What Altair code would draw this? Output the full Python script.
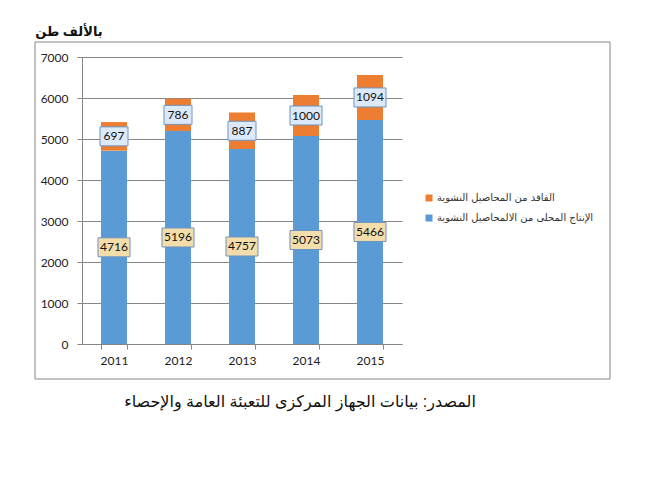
import altair as alt
import pandas as pd

years = ["2011", "2012", "2013", "2014", "2015"]
production = [4716, 5196, 4757, 5073, 5466]
loss = [697, 786, 887, 1000, 1094]

s_loss = "الفاقد من المحاصيل النشوية"
s_prod = "الإنتاج المحلى من الالمحاصيل النشوية"
unit_title = "بالألف طن"
source_text = "المصدر: بيانات الجهاز المركزى للتعبئة العامة والإحصاء"

y_ticks = [0, 1000, 2000, 3000, 4000, 5000, 6000, 7000]

rows = []
for yr, p, l in zip(years, production, loss):
    rows.append({"year": yr, "series": s_prod, "value": p, "ord": 0,
                 "mid": p / 2, "label": str(p)})
    rows.append({"year": yr, "series": s_loss, "value": l, "ord": 1,
                 "mid": p + l / 2, "label": str(l)})
df = pd.DataFrame(rows)

GRAY = "#868686"
W, H = 320, 287

xenc = alt.X("year:N", title=None,
             scale=alt.Scale(paddingInner=0.594, paddingOuter=0.297),
             axis=alt.Axis(labelFont="Lato", labelFontSize=12, labelColor="#222",
                           labelAngle=0, tickBand="extent", tickSize=5,
                           tickColor=GRAY, domainColor=GRAY, labelPadding=6,
                           grid=False))

yscale = alt.Scale(domain=[0, 7000], nice=False)

base = alt.Chart(df)

bars = base.mark_bar().encode(
    x=xenc,
    y=alt.Y("value:Q", stack="zero", scale=yscale, title=None,
            axis=alt.Axis(values=y_ticks, format="d", labelFont="Lato",
                          labelFontSize=12, labelColor="#222", tickSize=5,
                          tickColor=GRAY, domainColor=GRAY, gridColor=GRAY,
                          labelPadding=9)),
    color=alt.Color("series:N",
                    scale=alt.Scale(domain=[s_loss, s_prod],
                                    range=["#ED7D31", "#5B9BD5"]),
                    legend=alt.Legend(title=None, orient="none", legendX=342,
                                      legendY=136, symbolType="square",
                                      symbolSize=49, symbolStrokeWidth=0,
                                      labelFont="DejaVu Sans", labelFontSize=10,
                                      labelColor="#333", labelLimit=400,
                                      rowPadding=10, labelOffset=3)),
    order=alt.Order("ord:Q"),
)

boxes = base.transform_calculate(
    w="length(datum.label) > 3 ? 32 : 28",
    shp="length(datum.label) > 3 ? 'M-1,-0.594L1,-0.594L1,0.594L-1,0.594Z' : 'M-1,-0.679L1,-0.679L1,0.679L-1,0.679Z'",
    sz="datum.w * datum.w",
    fillc=f"datum.series == '{s_loss}' ? '#DCE9F8' : '#F3DDAB'",
).mark_point(filled=True, opacity=1, stroke="#6F93C0", strokeWidth=1).encode(
    x=alt.X("year:N"),
    y=alt.Y("mid:Q", scale=yscale),
    shape=alt.Shape("shp:N", scale=None),
    size=alt.Size("sz:Q", scale=None),
    fill=alt.Fill("fillc:N", scale=None),
)

texts = base.mark_text(font="Lato", fontSize=12, color="#111").encode(
    x=alt.X("year:N"),
    y=alt.Y("mid:Q", scale=yscale),
    text="label:N",
)

one = alt.Data(values=[{"t": unit_title, "s": source_text}])

border = alt.Chart(one).mark_rect(filled=False, stroke=GRAY, strokeWidth=1).encode(
    x=alt.value(-47), x2=alt.value(528), y=alt.value(-15), y2=alt.value(322)
)

title_t = alt.Chart(one).mark_text(font="Liberation Sans, DejaVu Sans", fontSize=13,
                                   fontWeight="bold", color="#111",
                                   align="center").encode(
    x=alt.value(-13), y=alt.value(-25), text="t:N"
)

source_t = alt.Chart(one).mark_text(font="Liberation Sans, DejaVu Sans", fontSize=16,
                                    color="#111", align="center").encode(
    x=alt.value(218), y=alt.value(345), text="s:N"
)

chart = alt.layer(border, bars, boxes, texts, title_t, source_t).properties(
    width=W, height=H,
    autosize=alt.AutoSizeParams(type="none"),
    padding={"left": 82, "top": 57, "right": 248, "bottom": 139},
    background="white",
).configure_view(stroke=None)

chart.save("out.html", embed_options={"renderer": "svg", "actions": False})
